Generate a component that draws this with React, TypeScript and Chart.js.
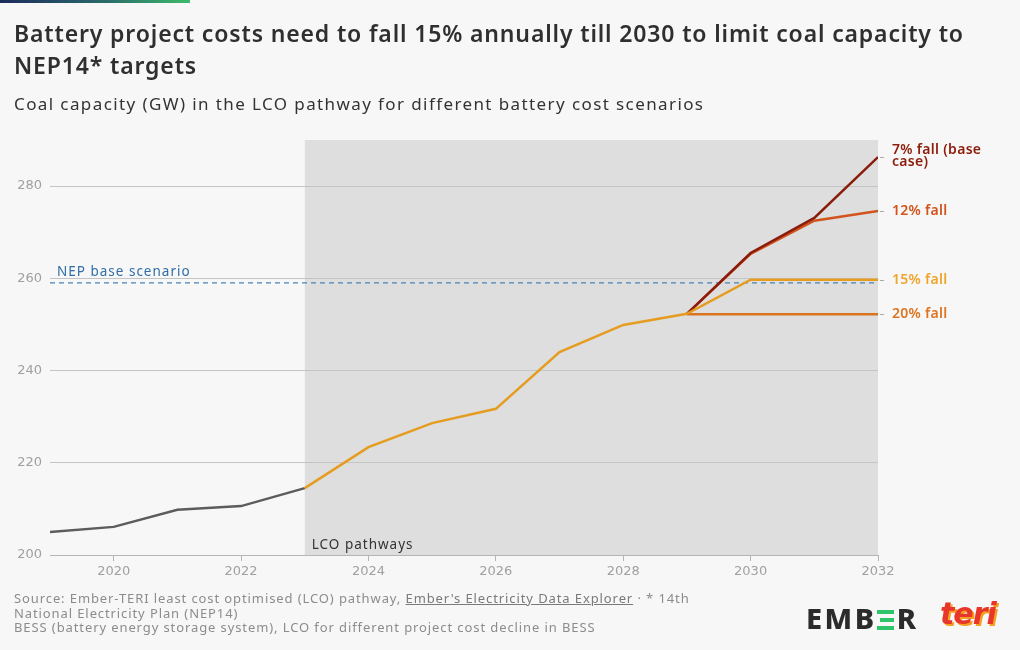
import React, { useEffect, useRef } from "react";
import { Chart, registerables } from "chart.js";

Chart.register(...registerables);

const FONT = "'Noto Sans', 'DejaVu Sans', sans-serif";
const TICK_FONT = "'DejaVu Sans', sans-serif";

const historyYears = [2019, 2020, 2021, 2022, 2023];
const historyValues = [205.0, 206.1, 209.8, 210.6, 214.5];

const pathwayYears = [2023, 2024, 2025, 2026, 2027, 2028, 2029, 2030, 2031, 2032];
const fall15Values = [214.5, 223.4, 228.6, 231.7, 244.0, 249.9, 252.3, 259.7, 259.7, 259.7];

const branchYears = [2029, 2030, 2031, 2032];
const fall7Values = [252.3, 265.5, 273.1, 286.3];
const fall12Values = [252.3, 265.3, 272.5, 274.6];
const fall20Values = [252.2, 252.2, 252.2, 252.2];

const nepValue = 259;
const shadeStartYear = 2023;
const xTickValues = [2020, 2022, 2024, 2026, 2028, 2030, 2032];
const yTickValues = [200, 220, 240, 260, 280];

const scenarioLabels = [
  { lines: ["7% fall (base", "case)"], values: fall7Values, color: "#8e1d0c" },
  { lines: ["12% fall"], values: fall12Values, color: "#d2531c" },
  { lines: ["15% fall"], values: fall15Values, color: "#efa52b" },
  { lines: ["20% fall"], values: fall20Values, color: "#de7420" },
];

const toPoints = (xs: number[], ys: number[]) => xs.map((x, i) => ({ x, y: ys[i] }));

const decorPlugin = {
  id: "decor",
  beforeDraw(chart: any) {
    const { ctx, chartArea, scales } = chart;
    ctx.save();
    ctx.fillStyle = "#f7f7f7";
    ctx.fillRect(0, 0, chart.width, chart.height);
    const x0 = scales.x.getPixelForValue(shadeStartYear);
    ctx.fillStyle = "#dedede";
    ctx.fillRect(x0, chartArea.top, chartArea.right - x0, chartArea.bottom - chartArea.top);
    ctx.restore();
  },
  afterDraw(chart: any) {
    const { ctx, chartArea, scales } = chart;
    ctx.save();
    (ctx as any).letterSpacing = "1px";
    ctx.font = `13.5px ${FONT}`;
    ctx.fillStyle = "#2f6ea6";
    ctx.textBaseline = "alphabetic";
    ctx.textAlign = "left";
    ctx.fillText("NEP base scenario", chartArea.left + 7, scales.y.getPixelForValue(nepValue) - 7);
    ctx.fillStyle = "#333";
    const xs = scales.x.getPixelForValue(shadeStartYear);
    ctx.fillText("LCO pathways", xs + 7, chartArea.bottom - 6);
    (ctx as any).letterSpacing = "0.3px";
    ctx.font = `600 14px ${FONT}`;
    ctx.textBaseline = "middle";
    scenarioLabels.forEach((s) => {
      const y = scales.y.getPixelForValue(s.values[s.values.length - 1]);
      ctx.strokeStyle = "#aaa";
      ctx.lineWidth = 1;
      ctx.beginPath();
      ctx.moveTo(chartArea.right + 2, Math.round(y) + 0.5);
      ctx.lineTo(chartArea.right + 6, Math.round(y) + 0.5);
      ctx.stroke();
      ctx.fillStyle = s.color;
      const lh = 11.5;
      const startY = y - ((s.lines.length - 1) * lh) / 2 - (s.lines.length > 1 ? 1 : 0);
      s.lines.forEach((ln, i) => ctx.fillText(ln, chartArea.right + 14, startY + i * lh));
    });
    ctx.restore();
  },
};

function ChartCanvas() {
  const ref = useRef<HTMLCanvasElement | null>(null);
  useEffect(() => {
    if (!ref.current) return;
    Chart.defaults.font.family = FONT;
    const line = (label: string, data: any[], color: string, width = 2.5, extra: any = {}) => ({
      label,
      data,
      borderColor: color,
      backgroundColor: color,
      borderWidth: width,
      pointRadius: 0,
      pointHoverRadius: 0,
      fill: false,
      tension: 0,
      ...extra,
    });
    const chart = new Chart(ref.current, {
      type: "line",
      data: {
        datasets: [
          line("15% fall", toPoints(pathwayYears, fall15Values), "#e59c20"),
          line("7% fall (base case)", toPoints(branchYears, fall7Values), "#8a1c0c"),
          line("12% fall", toPoints(branchYears, fall12Values), "#d2531c"),
          line("20% fall", toPoints(branchYears, fall20Values), "#d9731d"),
          line("History", toPoints(historyYears, historyValues), "#5c5c5c"),
          line(
            "NEP base scenario",
            [
              { x: 2019, y: nepValue },
              { x: 2032, y: nepValue },
            ],
            "#4a83b8",
            1.3,
            { borderDash: [5, 4] }
          ),
        ],
      },
      options: {
        animation: false,
        responsive: false,
        maintainAspectRatio: false,
        layout: { padding: { left: 0, right: 142, top: 140, bottom: 55 } },
        plugins: { legend: { display: false }, tooltip: { enabled: false } },
        scales: {
          x: {
            type: "linear",
            min: 2019,
            max: 2032,
            afterBuildTicks: (s: any) => {
              s.ticks = xTickValues.map((v) => ({ value: v }));
            },
            afterFit: (s: any) => {
              s.height = 40;
            },
            grid: { drawOnChartArea: false, drawTicks: true, tickLength: 6, color: "#b5b5b5" },
            border: { display: true, color: "#b5b5b5" },
            ticks: {
              color: "#a0a0a0",
              font: { size: 13, family: TICK_FONT },
              padding: 3,
              autoSkip: false,
              maxRotation: 0,
              callback: (v: any) => String(v),
            },
          },
          y: {
            min: 200,
            max: 290,
            afterBuildTicks: (s: any) => {
              s.ticks = yTickValues.map((v) => ({ value: v }));
            },
            afterFit: (s: any) => {
              s.width = 50;
            },
            grid: { color: "#c4c4c4", drawTicks: false },
            border: { display: false },
            ticks: { color: "#a0a0a0", font: { size: 13, family: TICK_FONT }, padding: 8 },
          },
        },
      },
      plugins: [decorPlugin],
    });
    return () => chart.destroy();
  }, []);
  return (
    <canvas
      ref={ref}
      width={1020}
      height={650}
      style={{ position: "absolute", left: 0, top: 0, width: 1020, height: 650 }}
    />
  );
}

function EmberLogo() {
  const bar = { height: 4, background: "#2fc36a", marginBottom: 4 };
  return (
    <div
      style={{
        position: "absolute",
        left: 806,
        top: 603,
        display: "flex",
        alignItems: "center",
        fontFamily: "'Noto Sans', sans-serif",
        fontWeight: 800,
        fontSize: 29,
        letterSpacing: 2.5,
        color: "#2b2b2b",
        lineHeight: "30px",
      }}
    >
      <span>EMB</span>
      <span style={{ display: "inline-block", width: 17, marginRight: 3, marginTop: 4 }}>
        <div style={{ ...bar, width: 17 }} />
        <div style={{ ...bar, width: 14, marginLeft: 3 }} />
        <div style={{ ...bar, width: 17, marginBottom: 0 }} />
      </span>
      <span>R</span>
    </div>
  );
}

export default function App() {
  return (
    <div
      style={{
        position: "absolute",
        left: 0,
        top: 0,
        width: 1020,
        height: 650,
        background: "#f7f7f7",
        overflow: "hidden",
        fontFamily: FONT,
      }}
    >
      <ChartCanvas />
      <div
        style={{
          position: "absolute",
          left: 0,
          top: 0,
          width: 190,
          height: 3,
          background: "linear-gradient(90deg, #1c2b5c, #2a6a6a 55%, #3dbb6c)",
        }}
      />
      <div
        style={{
          position: "absolute",
          left: 14,
          top: 17,
          fontSize: 23,
          fontWeight: 600,
          lineHeight: "32px",
          letterSpacing: 0.85,
          color: "#2f2f2f",
          whiteSpace: "nowrap",
        }}
      >
        Battery project costs need to fall 15% annually till 2030 to limit coal capacity to
        <br />
        NEP14* targets
      </div>
      <div
        style={{
          position: "absolute",
          left: 14,
          top: 92,
          fontSize: 17,
          letterSpacing: 1.4,
          color: "#333",
          whiteSpace: "nowrap",
        }}
      >
        Coal capacity (GW) in the LCO pathway for different battery cost scenarios
      </div>
      <div
        style={{
          position: "absolute",
          left: 14,
          top: 591,
          fontSize: 13,
          lineHeight: "14.5px",
          letterSpacing: 0.9,
          color: "#8c8c8c",
          width: 720,
          whiteSpace: "nowrap",
        }}
      >
        Source: Ember-TERI least cost optimised (LCO) pathway,{" "}
        <span style={{ textDecoration: "underline", color: "#7a7a7a" }}>Ember's Electricity Data Explorer</span> · * 14th
        <br />
        National Electricity Plan (NEP14)
        <br />
        BESS (battery energy storage system), LCO for different project cost decline in BESS
      </div>
      <EmberLogo />
      <div
        style={{
          position: "absolute",
          left: 940,
          top: 596,
          fontSize: 30,
          fontWeight: 800,
          fontStyle: "italic",
          letterSpacing: -1,
          color: "#e8372a",
          textShadow: "2px 2px 0 #f5a020",
          fontFamily: "'DejaVu Sans', sans-serif",
        }}
      >
        teri
      </div>
    </div>
  );
}
